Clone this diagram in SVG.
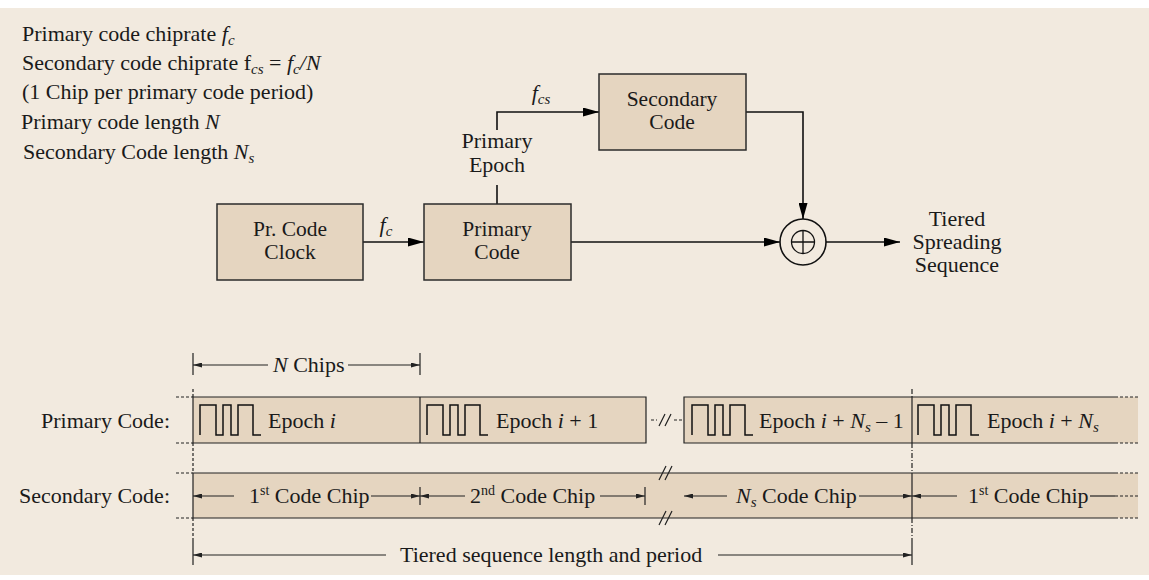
<svg xmlns="http://www.w3.org/2000/svg" width="1149" height="580" viewBox="0 0 1149 580">
<style>
text{font-family:"Liberation Serif","Times New Roman",serif;font-size:22px;fill:#1a1a1a}
.i{font-style:italic}
.sub{font-size:15px;font-style:italic}
.sup{font-size:14px}
.c{text-anchor:middle}
.e{text-anchor:end}
.bt{font-size:21.5px}
.box{fill:#E5D5C0;stroke:#2b2b2b;stroke-width:1.5}
.band{fill:#E5D5C0;stroke:none}
.ln{stroke:#111;stroke-width:1.6;fill:none}
.thin{stroke:#222;stroke-width:1.2;fill:none}
.dash{stroke:#222;stroke-width:1.2;stroke-dasharray:3 2;fill:none}
.dd{stroke:#222;stroke-width:1.2;stroke-dasharray:5 2 1 2;fill:none}
.wave{stroke:#111;stroke-width:1.5;fill:none}
</style>
<defs>
<marker id="a" markerUnits="userSpaceOnUse" markerWidth="16" markerHeight="9" refX="16" refY="4.5" orient="auto"><path d="M0,0L16,4.5L0,9z" fill="#000"/></marker>
<marker id="s" markerUnits="userSpaceOnUse" markerWidth="9" markerHeight="5" refX="9" refY="2.5" orient="auto"><path d="M0,0L9,2.5L0,5z" fill="#222"/></marker>
</defs>
<rect x="0" y="8" width="1149" height="567" fill="#F2EADF"/>

<g id="legend">
<text x="22" y="41">Primary code chiprate <tspan class="i">f</tspan><tspan class="sub" dy="4">c</tspan></text>
<text x="22" y="70">Secondary code chiprate f<tspan class="sub" dy="4">cs</tspan><tspan dy="-4"> = </tspan><tspan class="i">f</tspan><tspan class="sub" dy="4">c</tspan><tspan class="i" dy="-4">/N</tspan></text>
<text x="22" y="99">(1 Chip per primary code period)</text>
<text x="21" y="129">Primary code length <tspan class="i">N</tspan></text>
<text x="23" y="159">Secondary Code length <tspan class="i">N</tspan><tspan class="sub" dy="4">s</tspan></text>
</g>

<g id="connectors">
<line class="ln" x1="363" y1="242" x2="424" y2="242" marker-end="url(#a)"/>
<line class="ln" x1="571" y1="242" x2="780" y2="242" marker-end="url(#a)"/>
<line class="ln" x1="826" y1="242" x2="900" y2="242" marker-end="url(#a)"/>
<line class="ln" x1="497" y1="204" x2="497" y2="185"/>
<path class="ln" d="M497,130V112H599" marker-end="url(#a)"/>
<path class="ln" d="M746,112H803V219" marker-end="url(#a)"/>
<text class="c" x="386" y="232"><tspan class="i">f</tspan><tspan class="sub" dy="4">c</tspan></text>
<text class="c" x="541" y="100"><tspan class="i">f</tspan><tspan class="sub" dy="4">cs</tspan></text>
<text class="c" x="497" y="148">Primary</text>
<text class="c" x="497" y="172">Epoch</text>
</g>

<g id="clock">
<rect class="box" x="217" y="204" width="146" height="76"/>
<text class="c bt" x="290" y="236">Pr. Code</text>
<text class="c bt" x="290" y="259">Clock</text>
</g>
<g id="primary">
<rect class="box" x="424" y="204" width="147" height="76"/>
<text class="c bt" x="497" y="236">Primary</text>
<text class="c bt" x="497" y="259">Code</text>
</g>
<g id="secondary">
<rect class="box" x="599" y="74" width="147" height="76"/>
<text class="c bt" x="672" y="106">Secondary</text>
<text class="c bt" x="672" y="129">Code</text>
</g>
<g id="xor">
<circle cx="803" cy="242" r="23" fill="none" stroke="#111" stroke-width="1.6"/>
<circle cx="803" cy="242" r="11.5" fill="none" stroke="#111" stroke-width="1.3"/>
<path d="M791.5,242H814.5M803,230.5V253.5" stroke="#111" stroke-width="1.3"/>
</g>
<g id="output">
<text class="c" x="957" y="226">Tiered</text>
<text class="c" x="957" y="249">Spreading</text>
<text class="c" x="957" y="272">Sequence</text>
</g>

<g id="timing">
<path class="thin" d="M193,353V375M420,353V375"/>
<line class="thin" x1="268" y1="365" x2="193" y2="365" marker-end="url(#s)"/>
<line class="thin" x1="348" y1="365" x2="420" y2="365" marker-end="url(#s)"/>
<text x="273" y="372"><tspan class="i">N</tspan> Chips</text>

<text class="e" x="170" y="428">Primary Code:</text>
<text class="e" x="170" y="503">Secondary Code:</text>

<rect class="band" x="193" y="397" width="453" height="46"/>
<rect class="band" x="684" y="397" width="454" height="46"/>
<path class="thin" d="M193,397H646V443H193ZM420,397V443"/>
<path class="thin" d="M1115,397H684V443H1115M912,397V443"/>
<path class="dash" d="M1115,397H1138M1115,443H1138M176,397H193M176,443H193"/>
<path class="dash" d="M651,420H657M674,420H682"/>
<path class="thin" d="M659,426L665,414M665,426L671,414"/>
<path class="wave" d="M200,435V405H216V435H223V405H231V435H238V405H253V435H261"/>
<path class="wave" d="M427,435V405H443V435H450V405H458V435H465V405H480V435H488"/>
<path class="wave" d="M692,435V405H708V435H715V405H723V435H730V405H745V435H753"/>
<path class="wave" d="M918,435V405H934V435H941V405H949V435H956V405H971V435H979"/>
<text x="268" y="428">Epoch <tspan class="i">i</tspan></text>
<text x="496" y="428">Epoch <tspan class="i">i</tspan> + 1</text>
<text x="759" y="428">Epoch <tspan class="i">i</tspan> + <tspan class="i">N</tspan><tspan class="sub" dy="4">s</tspan><tspan dy="-4"> – 1</tspan></text>
<text x="987" y="428">Epoch <tspan class="i">i</tspan> + <tspan class="i">N</tspan><tspan class="sub" dy="4">s</tspan></text>

<rect class="band" x="193" y="473" width="945" height="45"/>
<path class="thin" d="M1115,473H193V518H1115M912,473V518"/>
<path class="dash" d="M1115,473H1138M1115,518H1138M176,473H193M176,518H193"/>
<path class="thin" d="M659,480L666,466M665,480L672,466M659,525L666,511M665,525L672,511"/>
<path class="thin" d="M420,487V505M645,487V505"/>
<line class="thin" x1="234" y1="496" x2="193" y2="496" marker-end="url(#s)"/>
<line class="thin" x1="371" y1="496" x2="420" y2="496" marker-end="url(#s)"/>
<line class="thin" x1="465" y1="496" x2="420" y2="496" marker-end="url(#s)"/>
<line class="thin" x1="600" y1="496" x2="645" y2="496" marker-end="url(#s)"/>
<line class="thin" x1="727" y1="496" x2="684" y2="496" marker-end="url(#s)"/>
<line class="thin" x1="859" y1="496" x2="912" y2="496" marker-end="url(#s)"/>
<line class="thin" x1="957" y1="496" x2="912" y2="496" marker-end="url(#s)"/>
<line class="thin" x1="1090" y1="496" x2="1115" y2="496"/>
<line class="dash" x1="1115" y1="496" x2="1138" y2="496"/>
<text x="249" y="503">1<tspan class="sup" dy="-8">st</tspan><tspan dy="8"> Code Chip</tspan></text>
<text x="470" y="503">2<tspan class="sup" dy="-8">nd</tspan><tspan dy="8"> Code Chip</tspan></text>
<text x="736" y="503"><tspan class="i">N</tspan><tspan class="sub" dy="4">s</tspan><tspan dy="-4"> Code Chip</tspan></text>
<text x="968" y="503">1<tspan class="sup" dy="-8">st</tspan><tspan dy="8"> Code Chip</tspan></text>

<path class="dash" d="M193,389V397M193,443V473M193,518V541"/>
<path class="dd" d="M912,389V397M912,443V473M912,518V541"/>
<path class="thin" d="M193,541V565M912,541V565"/>

<line class="thin" x1="386" y1="555" x2="193" y2="555" marker-end="url(#s)"/>
<line class="thin" x1="718" y1="555" x2="912" y2="555" marker-end="url(#s)"/>
<text x="400" y="562">Tiered sequence length and period</text>
</g>
</svg>
